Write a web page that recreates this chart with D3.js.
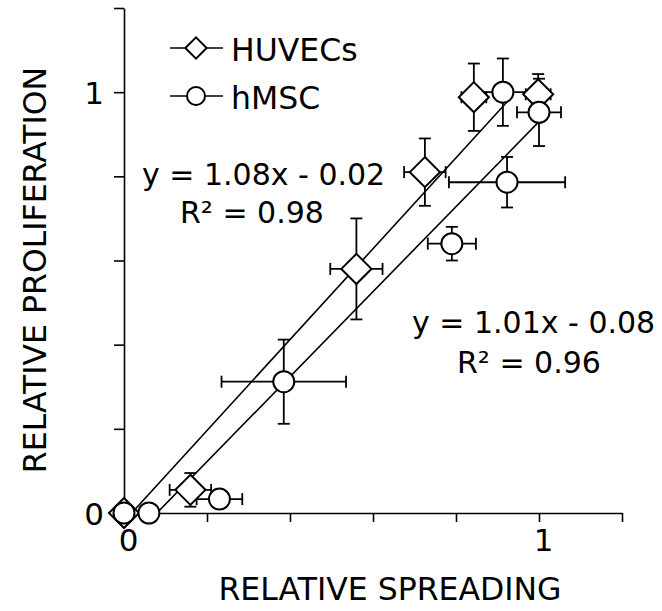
<!DOCTYPE html>
<html>
<head>
<meta charset="utf-8">
<script src="https://cdn.jsdelivr.net/npm/d3@7"></script>
<style>
	body { margin: 0; background: #fff; }
	svg { font-family: "DejaVu Sans", Verdana, sans-serif; }
</style>
</head>
<body>
<div id="chart"></div>
<script>
var width = 662;
var height = 611;

// HUVECs (diamonds): spreading, proliferation, error bars
var huvecX    = [0, 0.16, 0.56, 0.725, 0.843, 0.998];
var huvecY    = [0, 0.055, 0.58, 0.81, 0.988, 0.995];
var huvecXErr = [0, 0.05, 0.063, 0.05, 0.03, 0.03];
var huvecYErr = [0, 0.04, 0.12, 0.08, 0.08, 0.048];

// hMSC (circles)
var hmscX    = [0, 0.06, 0.23, 0.385, 0.79, 0.923, 0.913, 1.0];
var hmscY    = [0, 0, 0.033, 0.312, 0.64, 0.786, 1.0, 0.952];
var hmscXErr = [0, 0, 0.055, 0.15, 0.058, 0.14, 0.072, 0.053];
var hmscYErr = [0, 0, 0, 0.1, 0.04, 0.06, 0.08, 0.08];

// linear fits: slope, intercept, x range drawn
var fitSlope     = [1.08, 1.01];
var fitIntercept = [-0.02, -0.08];
var fitRange     = [[0.02, 0.925], [0.08, 1.0]];
var fitLabels    = [["y = 1.08x - 0.02", "R\u00b2 = 0.98"], ["y = 1.01x - 0.08", "R\u00b2 = 0.96"]];

var legendNames = ["HUVECs", "hMSC"];
var axisTicks = [0, 0.2, 0.4, 0.6, 0.8, 1, 1.2];
var tickLabels = {0: "0", 1: "1"};

var x = d3.scaleLinear().domain([0, 1.2]).range([124, 622]);
var y = d3.scaleLinear().domain([0, 1.2]).range([513, 8]);

var svg = d3.select("#chart").append("svg")
	.attr("width", width)
	.attr("height", height);

function zip(xs, ys, xe, ye) {
	return xs.map(function(v, i){
		return {x: v, y: ys[i], xe: xe[i], ye: ye[i]};
	});
}
var huvec = zip(huvecX, huvecY, huvecXErr, huvecYErr);
var hmsc = zip(hmscX, hmscY, hmscXErr, hmscYErr);

// axes
var yAxis = d3.axisLeft(y).tickValues(axisTicks).tickSize(10).tickSizeOuter(0)
	.tickFormat(function(d){ return tickLabels[d] || ""; });
var xAxis = d3.axisBottom(x).tickValues(axisTicks).tickSize(9).tickSizeOuter(0)
	.tickFormat(function(d){ return tickLabels[d] || ""; });

var gy = svg.append("g").attr("transform", "translate(124,0)").call(yAxis);
var gx = svg.append("g").attr("transform", "translate(0,513)").call(xAxis);

[gy, gx].forEach(function(g){
	g.select(".domain").attr("stroke", "#000").attr("stroke-width", 1.6);
	g.selectAll(".tick line").attr("stroke", "#000").attr("stroke-width", 1.6);
	g.selectAll(".tick text")
		.attr("fill", "#000")
		.style("font-size", "31px")
		.style("font-family", "DejaVu Sans, Verdana, sans-serif");
});
gy.selectAll(".tick text").attr("x", -20).attr("dy", "0.37em");
gx.selectAll(".tick text").attr("y", 16).attr("dx", 4).attr("dy", "0.71em");

// axis titles
svg.append("text")
	.attr("x", 390)
	.attr("y", 600)
	.attr("text-anchor", "middle")
	.style("font-size", "31.5px")
	.text("RELATIVE SPREADING");

svg.append("text")
	.attr("transform", "translate(46,270) rotate(-90)")
	.attr("text-anchor", "middle")
	.style("font-size", "31.5px")
	.text("RELATIVE PROLIFERATION");

// fit lines
var plot = svg.append("g");
for (var i = 0; i < fitSlope.length; i++) {
	plot.append("line")
		.attr("x1", x(fitRange[i][0]))
		.attr("y1", y(fitSlope[i] * fitRange[i][0] + fitIntercept[i]))
		.attr("x2", x(fitRange[i][1]))
		.attr("y2", y(fitSlope[i] * fitRange[i][1] + fitIntercept[i]))
		.attr("stroke", "#000")
		.attr("stroke-width", 1.6);
}

// error bars
function drawErrors(data) {
	var cap = 6;
	data.forEach(function(d){
		var g = plot.append("g").attr("stroke", "#000").attr("stroke-width", 1.8);
		if (d.xe > 0) {
			g.append("line").attr("x1", x(d.x - d.xe)).attr("x2", x(d.x + d.xe))
				.attr("y1", y(d.y)).attr("y2", y(d.y));
			g.append("line").attr("x1", x(d.x - d.xe)).attr("x2", x(d.x - d.xe))
				.attr("y1", y(d.y) - cap).attr("y2", y(d.y) + cap);
			g.append("line").attr("x1", x(d.x + d.xe)).attr("x2", x(d.x + d.xe))
				.attr("y1", y(d.y) - cap).attr("y2", y(d.y) + cap);
		}
		if (d.ye > 0) {
			g.append("line").attr("x1", x(d.x)).attr("x2", x(d.x))
				.attr("y1", y(d.y - d.ye)).attr("y2", y(d.y + d.ye));
			g.append("line").attr("x1", x(d.x) - cap).attr("x2", x(d.x) + cap)
				.attr("y1", y(d.y - d.ye)).attr("y2", y(d.y - d.ye));
			g.append("line").attr("x1", x(d.x) - cap).attr("x2", x(d.x) + cap)
				.attr("y1", y(d.y + d.ye)).attr("y2", y(d.y + d.ye));
		}
	});
}
drawErrors(huvec);
drawErrors(hmsc);

var diamond = d3.symbol().type(d3.symbolDiamond2).size(2 * 17 * 17);

plot.selectAll(".huvec")
	.data(huvec)
	.enter()
	.append("path")
	.attr("class", "huvec")
	.attr("d", diamond)
	.attr("transform", function(d){ return "translate(" + x(d.x) + "," + y(d.y) + ")"; })
	.attr("fill", "#fff")
	.attr("stroke", "#000")
	.attr("stroke-width", 2);

plot.selectAll(".hmsc")
	.data(hmsc)
	.enter()
	.append("circle")
	.attr("class", "hmsc")
	.attr("cx", function(d){ return x(d.x); })
	.attr("cy", function(d){ return y(d.y); })
	.attr("r", 10.5)
	.attr("fill", "#fff")
	.attr("stroke", "#000")
	.attr("stroke-width", 2);

// equations
var eqPos = [[142, 185, 180, 223], [412, 333, 457, 373]];
for (var i = 0; i < fitLabels.length; i++) {
	svg.append("text").attr("x", eqPos[i][0]).attr("y", eqPos[i][1])
		.style("font-size", "30px").text(fitLabels[i][0]);
	svg.append("text").attr("x", eqPos[i][2]).attr("y", eqPos[i][3])
		.style("font-size", "30px").text(fitLabels[i][1]);
}

// legend
var legend = svg.append("g");
legendNames.forEach(function(name, i){
	var ly = 48 + i * 48;
	legend.append("line")
		.attr("x1", 170).attr("x2", 223)
		.attr("y1", ly).attr("y2", ly)
		.attr("stroke", "#000").attr("stroke-width", 1.6);
	if (i == 0) {
		legend.append("path")
			.attr("d", d3.symbol().type(d3.symbolDiamond2).size(2 * 12 * 12))
			.attr("transform", "translate(196," + ly + ")")
			.attr("fill", "#fff").attr("stroke", "#000").attr("stroke-width", 2);
	} else {
		legend.append("circle")
			.attr("cx", 196).attr("cy", ly).attr("r", 9)
			.attr("fill", "#fff").attr("stroke", "#000").attr("stroke-width", 2);
	}
	legend.append("text")
		.attr("x", 231).attr("y", ly + 13)
		.style("font-size", "31.5px")
		.text(name);
});
</script>
</body>
</html>
